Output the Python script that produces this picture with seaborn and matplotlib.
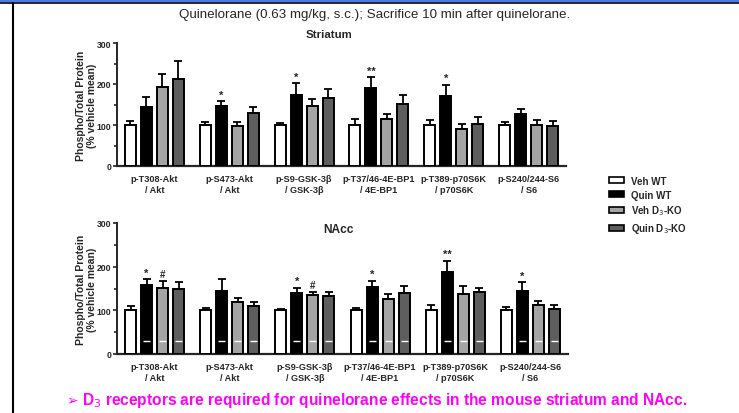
import numpy as np
import pandas as pd
import seaborn as sns
import matplotlib.pyplot as plt
from matplotlib.patches import Patch, Rectangle
from matplotlib.lines import Line2D

# Categories
groups = ["p-T308-Akt\n/ Akt", "p-S473-Akt\n/ Akt", "p-S9-GSK-3\u03b2\n/ GSK-3\u03b2",
          "p-T37/46-4E-BP1\n/ 4E-BP1", "p-T389-p70S6K\n/ p70S6K", "p-S240/244-S6\n/ S6"]
conditions = ["Veh WT", "Quin WT", "Veh D$_3$-KO", "Quin D$_3$-KO"]
bar_colors = ["#ffffff", "#000000", "#a4a4a4", "#5e5e5e"]

# Striatum means (% vehicle mean) and SEM
str_veh_wt = [100, 100, 100, 100, 100, 100]
str_quin_wt = [145, 146, 173, 191, 171, 126]
str_veh_ko = [193, 97, 147, 115, 90, 100]
str_quin_ko = [212, 130, 165, 151, 103, 98]
str_veh_wt_err = [10, 7, 6, 14, 11, 7]
str_quin_wt_err = [24, 12, 29, 26, 27, 14]
str_veh_ko_err = [31, 10, 16, 13, 13, 11]
str_quin_ko_err = [43, 15, 22, 21, 16, 11]
str_marks = [(1, 1, "*"), (2, 1, "*"), (3, 1, "**"), (4, 1, "*")]

# NAcc means and SEM
nacc_veh_wt = [100, 100, 100, 100, 100, 100]
nacc_quin_wt = [158, 144, 139, 153, 187, 145]
nacc_veh_ko = [152, 118, 134, 125, 138, 113]
nacc_quin_ko = [149, 110, 132, 140, 142, 103]
nacc_veh_wt_err = [9, 5, 3, 5, 12, 7]
nacc_quin_wt_err = [13, 28, 12, 14, 26, 19]
nacc_veh_ko_err = [16, 10, 9, 13, 18, 8]
nacc_quin_ko_err = [17, 10, 10, 15, 9, 10]
nacc_marks = [(0, 1, "*"), (0, 2, "#"), (2, 1, "*"), (2, 2, "#"),
              (3, 1, "*"), (4, 1, "**"), (5, 1, "*")]

yticks = [0, 100, 200, 300]

sns.set_style("white")
plt.rcParams['font.family'] = ['Liberation Sans', 'DejaVu Sans']


def make_df(series, errs):
    rows = []
    for cond, vals, ers in zip(conditions, series, errs):
        for g, v, e in zip(groups, vals, ers):
            rows.append({"group": g, "condition": cond, "value": v, "err": e})
    return pd.DataFrame(rows)


def draw_panel(ax, df, marks, white_marks=False):
    sns.barplot(data=df, x="group", y="value", hue="condition", order=groups,
                hue_order=conditions, palette=bar_colors, edgecolor="black",
                linewidth=1.4, width=0.853, gap=0.31, errorbar=None,
                legend=False, ax=ax, zorder=3)
    bars = sorted(ax.patches, key=lambda p: p.get_x())
    xs = [p.get_x() + p.get_width() / 2 for p in bars]
    # bars sorted by x -> group-major order
    vals = [df[(df.group == g) & (df.condition == c)].value.iloc[0]
            for g in groups for c in conditions]
    errs = [df[(df.group == g) & (df.condition == c)].err.iloc[0]
            for g in groups for c in conditions]
    ax.errorbar(xs, vals, yerr=[np.zeros(len(errs)), errs], fmt="none",
                ecolor="black", elinewidth=1.3, capsize=2.8, capthick=1.3, zorder=2)
    for g, i, txt in marks:
        k = g * 4 + i
        ax.text(xs[k], vals[k] + errs[k] + 4, txt, ha="center", va="bottom",
                fontsize=8 if txt != "#" else 7, fontweight="bold")
    if white_marks:
        for k, p in enumerate(bars):
            if k % 4 != 0:
                ax.hlines(30, p.get_x() + p.get_width() * 0.18,
                          p.get_x() + p.get_width() * 0.82, color="white",
                          lw=1.0, zorder=4)
    ax.set_xlim(-0.5, 5.5)
    ax.set_ylim(0, 300)
    ax.set_yticks(yticks)
    ax.set_yticks([50, 150, 250], minor=True)
    ax.tick_params(axis="y", which="major", direction="out", length=3, width=1.2,
                   labelsize=6.2, pad=1, left=True)
    ax.tick_params(axis="y", which="minor", direction="out", length=2, width=1.2, left=True)
    for lab in ax.get_yticklabels():
        lab.set_fontweight("bold")
    ax.tick_params(axis="x", length=0, labelsize=6.6, pad=6)
    for lab in ax.get_xticklabels():
        lab.set_fontweight("bold")
    ax.set_xlabel("")
    ax.set_ylabel("Phospho/Total Protein\n(% vehicle mean)", fontsize=7.5,
                  fontweight="bold", labelpad=0, linespacing=1.05)
    sns.despine(ax=ax)
    ax.spines["left"].set_linewidth(1.4)
    ax.spines["bottom"].set_linewidth(1.6)


fig = plt.figure(figsize=(7.39, 4.14), dpi=100)

ax1 = fig.add_axes([117 / 739, 1 - 167 / 414, 449 / 739, 123 / 414])
draw_panel(ax1, make_df([str_veh_wt, str_quin_wt, str_veh_ko, str_quin_ko],
                        [str_veh_wt_err, str_quin_wt_err, str_veh_ko_err, str_quin_ko_err]),
           str_marks)

ax2 = fig.add_axes([117 / 739, 1 - 355 / 414, 451 / 739, 131 / 414])
draw_panel(ax2, make_df([nacc_veh_wt, nacc_quin_wt, nacc_veh_ko, nacc_quin_ko],
                        [nacc_veh_wt_err, nacc_quin_wt_err, nacc_veh_ko_err, nacc_quin_ko_err]),
           nacc_marks, white_marks=True)

# Titles
fig.text(375 / 739, 1 - 15 / 414, "Quinelorane (0.63 mg/kg, s.c.); Sacrifice 10 min after quinelorane.",
         ha="center", va="center", fontsize=9.6)
fig.text(329 / 739, 1 - 35 / 414, "Striatum", ha="center", va="center",
         fontsize=8.2, fontweight="bold")
fig.text(338 / 739, 1 - 230 / 414, "NAcc", ha="center", va="center",
         fontsize=8.6, fontweight="bold")

# Legend
handles = [Patch(facecolor=c, edgecolor="black", linewidth=1.2) for c in bar_colors]
leg = fig.legend(handles, conditions, loc="upper left",
                 bbox_to_anchor=(600 / 739, 1 - 168 / 414), frameon=False,
                 handlelength=1.55, handleheight=0.62, labelspacing=0.4,
                 handletextpad=0.75, prop={"size": 7, "weight": "bold"})

# Bottom message
fig.text(66 / 739, 1 - 401 / 414, "\u27a2", ha="left", va="center", fontsize=10,
         color="#ff00ff", family="DejaVu Sans")
fig.text(82 / 739, 1 - 401 / 414,
         "D$_3$ receptors are required for quinelorane effects in the mouse striatum and NAcc.",
         ha="left", va="center", fontsize=11.2, fontweight="bold", color="#ff00ff")

# Slide frame
fig.add_artist(Rectangle((0, 1 - 3 / 414), 1, 3 / 414, transform=fig.transFigure,
                         facecolor="#5078e0", edgecolor="none"))
fig.add_artist(Line2D([0, 1], [1 - 3.5 / 414] * 2, transform=fig.transFigure,
                      color="black", lw=1.2))
fig.add_artist(Line2D([12.5 / 739] * 2, [0, 1 - 3.5 / 414], transform=fig.transFigure,
                      color="black", lw=1.5))

fig.savefig("out.png", dpi=100)
